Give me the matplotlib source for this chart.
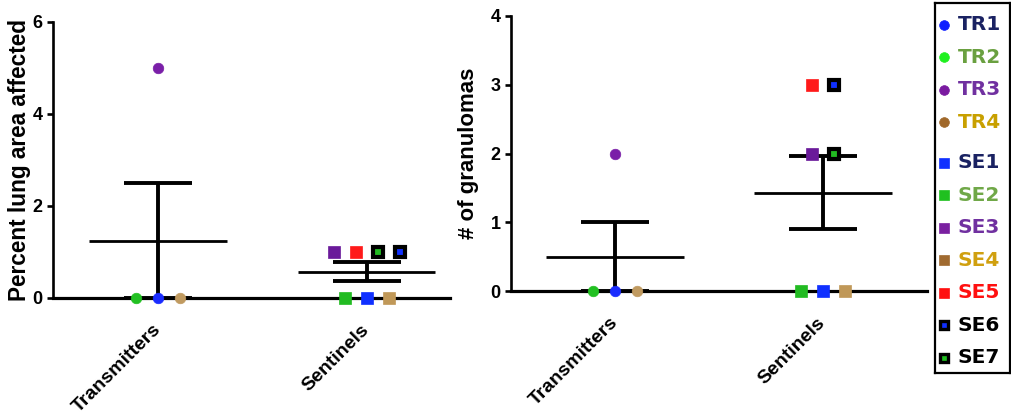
import numpy as np
import matplotlib
matplotlib.use("Agg")
import matplotlib.pyplot as plt

plt.rcParams["font.family"] = ["Liberation Sans", "DejaVu Sans"]
plt.rcParams["font.weight"] = "bold"

# ---- data ----
groups = ["Transmitters", "Sentinels"]
transmitters = ["TR1", "TR2", "TR3", "TR4"]
sentinels = ["SE1", "SE2", "SE3", "SE4", "SE5", "SE6", "SE7"]

# percent lung area affected
lung_tr = [0, 0, 5, 0]
lung_se = [0, 0, 1, 0, 1, 1, 1]

# number of granulomas
gran_tr = [0, 0, 2, 0]
gran_se = [0, 0, 2, 0, 3, 3, 2]

# order in which points are spread sideways within one value row
order_tr = ["TR2", "TR1", "TR4", "TR3"]
order_se = ["SE2", "SE1", "SE4", "SE3", "SE5", "SE7", "SE6"]

# ---- styles ----
style = {
    "TR1": dict(marker="o", fc="#1a2cff", ec="#1a2cff"),
    "TR2": dict(marker="o", fc="#22c022", ec="#22c022"),
    "TR3": dict(marker="o", fc="#7a1fa8", ec="#7a1fa8"),
    "TR4": dict(marker="o", fc="#c09a60", ec="#c09a60"),
    "SE1": dict(marker="s", fc="#1030ff", ec="#1030ff"),
    "SE2": dict(marker="s", fc="#22bb22", ec="#22bb22"),
    "SE3": dict(marker="s", fc="#6a1a9a", ec="#6a1a9a"),
    "SE4": dict(marker="s", fc="#c09858", ec="#c09858"),
    "SE5": dict(marker="s", fc="#ff1a1a", ec="#ff1a1a"),
    "SE6": dict(marker="s", fc="#1030ff", ec="black"),
    "SE7": dict(marker="s", fc="#22bb22", ec="black"),
}
legend_marker = {
    "TR1": "#1020ff", "TR2": "#20f020", "TR3": "#7a1aa0", "TR4": "#a0682a",
    "SE1": "#1030ff", "SE2": "#20c020", "SE3": "#7a20a0", "SE4": "#a06a30",
    "SE5": "#ff1010", "SE6": "#1030ff", "SE7": "#20c020",
}
legend_text = {
    "TR1": "#1a2262", "TR2": "#6aa040", "TR3": "#7030a0", "TR4": "#c8a000",
    "SE1": "#1a2262", "SE2": "#70a848", "SE3": "#7030a0", "SE4": "#d0a010",
    "SE5": "#ff1010", "SE6": "black", "SE7": "black",
}

STEP = 0.106


def draw_panel(ax, tr_vals, se_vals):
    for gi, (names, vals, order) in enumerate(
            [(transmitters, tr_vals, order_tr), (sentinels, se_vals, order_se)]):
        val = dict(zip(names, vals))
        rows = {}
        for n in order:
            rows.setdefault(val[n], []).append(n)
        for v, members in rows.items():
            k = len(members)
            for j, n in enumerate(members):
                x = gi + (j - (k - 1) / 2) * STEP
                st = style[n]
                black = st["ec"] == "black"
                ax.plot(x, v, linestyle="none", marker=st["marker"],
                        mfc=st["fc"], mec=st["ec"],
                        ms=7.8 if black else (8 if st["marker"] == "s" else 7.6),
                        mew=3 if black else 0.5, clip_on=False, zorder=5)
        arr = np.array(vals, dtype=float)
        m = arr.mean()
        sem = arr.std(ddof=1) / np.sqrt(len(arr))
        ax.hlines(m, gi - 0.33, gi + 0.33, color="black", lw=2, zorder=3)
        ax.hlines([m - sem, m + sem], gi - 0.163, gi + 0.163, color="black",
                  lw=2.8, zorder=3)
        ax.vlines(gi, m - sem, m + sem, color="black", lw=2.8, zorder=3)

    ax.spines["top"].set_visible(False)
    ax.spines["right"].set_visible(False)
    ax.spines["left"].set_linewidth(1.9)
    ax.spines["bottom"].set_linewidth(2.3)
    ax.set_xticks(range(len(groups)))
    ax.set_xticklabels(groups, rotation=45, ha="right", va="center",
                       rotation_mode="anchor", fontsize=14, fontweight="bold")
    ax.tick_params(axis="x", direction="out", length=3, width=2, pad=18)
    ax.tick_params(axis="y", direction="out", length=4.3, width=1.9, pad=3,
                   labelsize=13)
    for lab in ax.get_yticklabels():
        lab.set_fontweight("bold")


fig = plt.figure(figsize=(10.12, 4.17), dpi=100)

ax1 = fig.add_axes([53 / 1012, (417 - 298) / 417, 397 / 1012, 276 / 417])
draw_panel(ax1, lung_tr, lung_se)
ax1.set_xlim(-0.505, 1.40)
ax1.set_ylim(0, 6)
ax1.set_yticks([0, 2, 4, 6])
ax1.set_ylabel("Percent lung area affected", fontsize=16.3, fontweight="bold")
ax1.yaxis.set_label_coords(-0.055, 0.5)

ax2 = fig.add_axes([511 / 1012, (417 - 291) / 417, 416 / 1012, 275 / 417])
draw_panel(ax2, gran_tr, gran_se)
ax2.set_xlim(-0.5, 1.5)
ax2.set_ylim(0, 4)
ax2.set_yticks([0, 1, 2, 3, 4])
ax2.set_ylabel("# of granulomas", fontsize=16, fontweight="bold")
ax2.yaxis.set_label_coords(-0.077, 0.5)
for lab in ax1.get_yticklabels() + ax2.get_yticklabels():
    lab.set_fontweight("bold")

# ---- legend box ----
lg = fig.add_axes([935 / 1012, (417 - 373) / 417, 75 / 1012, 370 / 417])
lg.set_xlim(935, 1010)
lg.set_ylim(373, 3)
lg.set_xticks([])
lg.set_yticks([])
for sp in lg.spines.values():
    sp.set_linewidth(1.6)
for i, n in enumerate(transmitters + sentinels):
    y = 25 + i * 32.5 + (8 if i >= len(transmitters) else 0)
    st = style[n]
    black = st["ec"] == "black"
    lg.plot(944, y, linestyle="none", marker=st["marker"],
            mfc=legend_marker[n], mec="black" if black else legend_marker[n],
            ms=5.6 if black else 7, mew=2.4 if black else 0.5)
    lg.text(958, y, n, color=legend_text[n], fontsize=14.5, fontweight="bold",
            family="DejaVu Sans", va="center", ha="left")

fig.savefig("out.png", dpi=100)
